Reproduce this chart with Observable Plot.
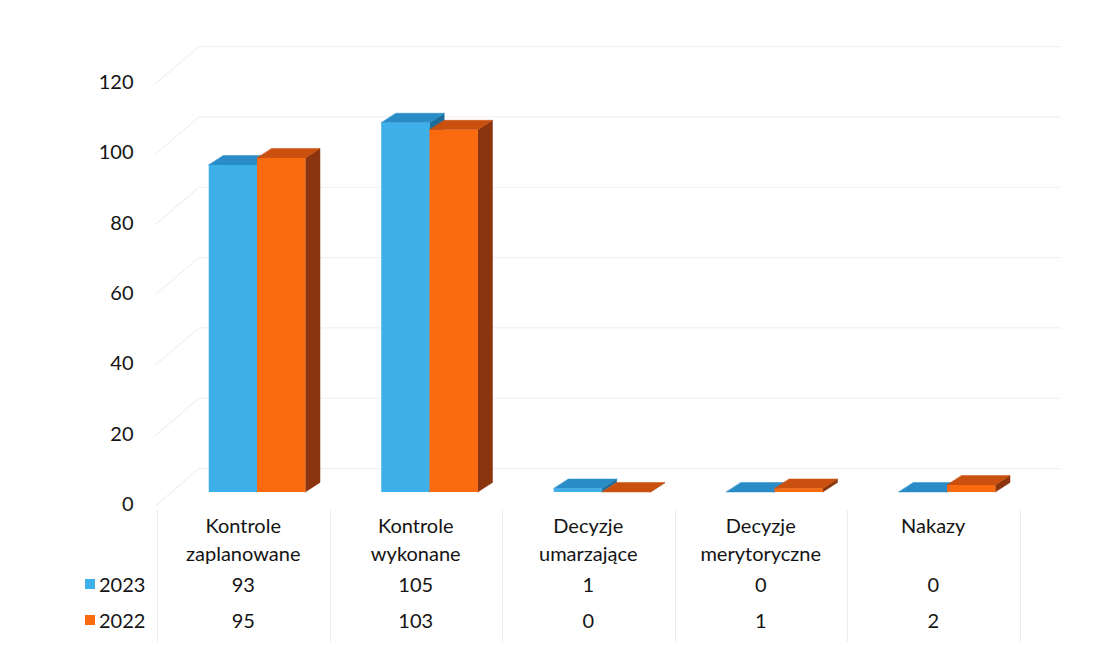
<!DOCTYPE html>
<html>
<head>
<meta charset="utf-8">
<script src="https://cdn.jsdelivr.net/npm/d3@7"></script>
<script src="https://cdn.jsdelivr.net/npm/@observablehq/plot@0.6"></script>
<style>
  html, body { margin: 0; padding: 0; background: #fff; }
  #wrap { position: relative; width: 1102px; height: 646px; overflow: hidden; font-family: Lato, "Open Sans", sans-serif; color: #141414; }
  #chart { position: absolute; left: 0; top: 0; }
  .cell { position: absolute; text-align: center; font-size: 20px; line-height: 28px; white-space: pre; }
  .vline { position: absolute; width: 1px; background: #ececec; }
  .sw { position: absolute; width: 10px; height: 10px; }
</style>
</head>
<body>
<div id="wrap"><div id="chart"></div></div>
<script>
// ---- data ----
const categories = ["Kontrole\nzaplanowane", "Kontrole\nwykonane", "Decyzje\numarzające", "Decyzje\nmerytoryczne", "Nakazy"];
const seriesNames = ["2023", "2022"];
const values2023 = [93, 105, 1, 0, 0];
const values2022 = [95, 103, 0, 1, 2];
const yTicks = [0, 20, 40, 60, 80, 100, 120];

// ---- styles ----
const palette = [
  {front: "#3db0ea", top: "#2a8cc6", side: "#1d6d9c"},
  {front: "#fa6a0e", top: "#c9500f", side: "#8a3510"}
];
const seriesValues = [values2023, values2022];
const barSpan = [[-0.2, 0.08], [0.08, 0.36]]; // within category, in x units
const D = 0.085; // depth in x units
const E = 2.7;   // depth in y units

const bars = [];
seriesValues.forEach((vals, s) => vals.forEach((v, i) => {
  bars.push({s, i, v, L: i + barSpan[s][0], R: i + barSpan[s][1], key: s + "-" + i});
}));
const topRows = bars.flatMap(b => [
  {s: b.s, key: b.key, x1: b.L, y1: b.v, x2: b.L + D, y2: b.v + E},
  {s: b.s, key: b.key, x1: b.R, y1: b.v, x2: b.R + D, y2: b.v + E}
]);
const sideRows = bars.flatMap(b => [
  {s: b.s, key: b.key, x1: b.R, y1: 0, x2: b.R, y2: b.v},
  {s: b.s, key: b.key, x1: b.R + D, y1: E, x2: b.R + D, y2: b.v + E}
]);

const marks = [
  // faint back wall grid
  Plot.ruleY(yTicks, {y: d => d + 6.8, x1: -0.26, x2: 4.74, stroke: "#f1f1f1", strokeWidth: 1.2}),
  Plot.link(yTicks, {x1: -0.51, y1: d => d - 3.7, x2: -0.26, y2: d => d + 6.8, stroke: "#f1f1f1", strokeWidth: 1.2}),
  Plot.text(yTicks, {y: d => d, text: d => String(d), frameAnchor: "left", textAnchor: "end", dx: -24, dy: 12, fontSize: 20, fill: "#141414"})
];
[0, 1].forEach(s => {
  const c = palette[s];
  marks.push(
    Plot.area(sideRows.filter(r => r.s === s), {x1: "x1", y1: "y1", x2: "x2", y2: "y2", z: "key", fill: c.side, stroke: c.side, strokeWidth: 0.5}),
    Plot.area(topRows.filter(r => r.s === s), {x1: "x1", y1: "y1", x2: "x2", y2: "y2", z: "key", fill: c.top, stroke: c.top, strokeWidth: 0.5}),
    Plot.rect(bars.filter(b => b.s === s), {x1: "L", x2: "R", y1: 0, y2: "v", fill: c.front})
  );
});

const chart = Plot.plot({
  width: 1102,
  height: 512,
  marginLeft: 157,
  marginRight: 82.5,
  marginTop: 70,
  marginBottom: 20,
  x: {domain: [-0.5, 4.5], axis: null},
  y: {domain: [0, 120], axis: null},
  style: {fontFamily: "Lato, 'Open Sans', sans-serif", background: "white", overflow: "visible"},
  marks
});
document.getElementById("chart").appendChild(chart);

// ---- data table below the chart ----
const wrap = document.getElementById("wrap");
const colLeft = 157, colW = 172.5;
for (let k = 0; k <= categories.length; k++) {
  const l = document.createElement("div");
  l.className = "vline";
  l.style.left = Math.round(colLeft + k * colW) + "px";
  l.style.top = "510px";
  l.style.height = "132px";
  wrap.appendChild(l);
}
categories.forEach((c, i) => {
  const d = document.createElement("div");
  d.className = "cell";
  d.style.left = (colLeft + i * colW) + "px";
  d.style.width = colW + "px";
  d.style.top = "511px";
  d.textContent = c;
  wrap.appendChild(d);
});
const rowTops = [570, 606];
seriesNames.forEach((name, s) => {
  const sw = document.createElement("div");
  sw.className = "sw";
  sw.style.left = "85px";
  sw.style.top = (rowTops[s] + 9) + "px";
  sw.style.background = palette[s].front;
  wrap.appendChild(sw);
  const lab = document.createElement("div");
  lab.className = "cell";
  lab.style.left = "99px";
  lab.style.width = "50px";
  lab.style.textAlign = "left";
  lab.style.top = rowTops[s] + "px";
  lab.textContent = name;
  wrap.appendChild(lab);
  seriesValues[s].forEach((v, i) => {
    const d = document.createElement("div");
    d.className = "cell";
    d.style.left = (colLeft + i * colW) + "px";
    d.style.width = colW + "px";
    d.style.top = rowTops[s] + "px";
    d.textContent = String(v);
    wrap.appendChild(d);
  });
});
</script>
</body>
</html>
